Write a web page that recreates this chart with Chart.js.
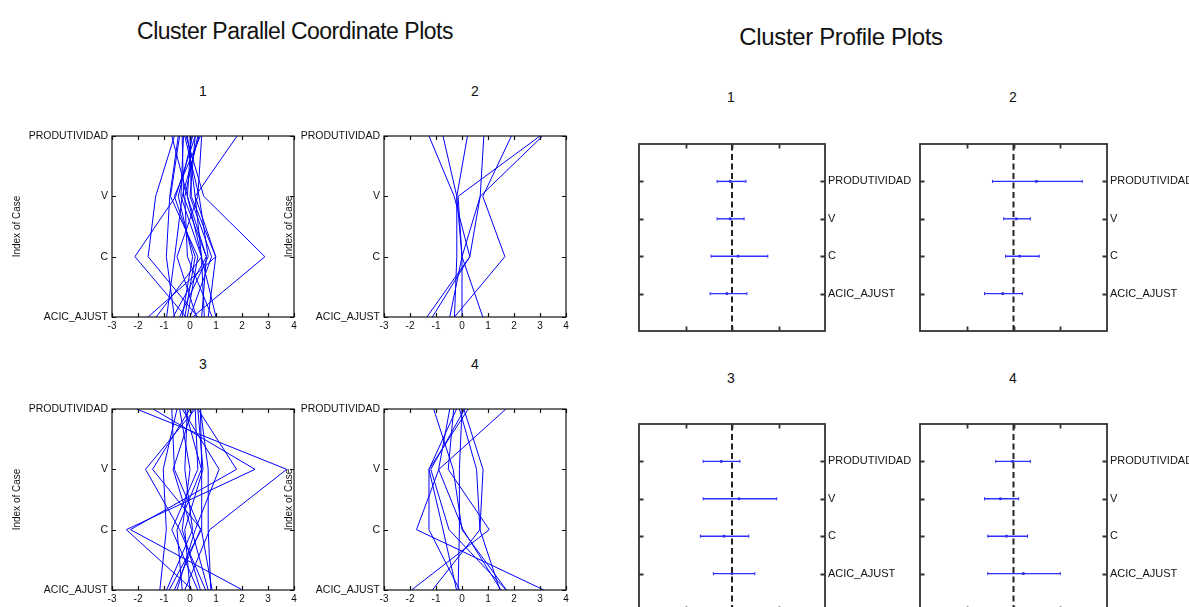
<!DOCTYPE html>
<html>
<head>
<meta charset="utf-8">
<script src="https://cdn.jsdelivr.net/npm/chart.js@4/dist/chart.umd.min.js"></script>
<style>
  html, body { margin: 0; padding: 0; background: #fff; }
  body { position: relative; width: 1189px; height: 607px; overflow: hidden;
         font-family: "Liberation Sans", Arial, sans-serif; color: #111; }
  canvas { position: absolute; }
  .lbl { position: absolute; white-space: nowrap; line-height: 1; transform: translate(-50%, -50%); }
  .main1 { font-size: 23px; letter-spacing: -0.5px; }
  .main2 { font-size: 24px; letter-spacing: -0.35px; }
  .num { font-size: 14px; }
</style>
</head>
<body>
<div class="lbl main1" style="left:295px; top:31px;">Cluster Parallel Coordinate Plots</div>
<div class="lbl main2" style="left:841px; top:37px;">Cluster Profile Plots</div>

<div class="lbl num" style="left:203px; top:91px;">1</div>
<div class="lbl num" style="left:475px; top:91px;">2</div>
<div class="lbl num" style="left:203px; top:364px;">3</div>
<div class="lbl num" style="left:475px; top:364px;">4</div>
<div class="lbl num" style="left:731px; top:97px;">1</div>
<div class="lbl num" style="left:1013px; top:97px;">2</div>
<div class="lbl num" style="left:731px; top:378px;">3</div>
<div class="lbl num" style="left:1013px; top:378px;">4</div>

<script>
// Variables, bottom to top
const variables = ['ACIC_AJUST', 'C', 'V', 'PRODUTIVIDAD'];
const parallelTicks = [-3, -2, -1, 0, 1, 2, 3, 4];
const profileTicks = [-2, 0, 2];

// Standardized cases per cluster: [ACIC_AJUST, C, V, PRODUTIVIDAD]
const cluster1Cases = [
  [0.1, 2.88, 0.53, -0.15],
  [-0.15, -2.12, -0.55, 0.2],
  [0.3, -1.61, -1.32, -0.6],
  [-0.6, -0.91, -0.78, -0.45],
  [-0.9, -0.59, -0.3, 0.35],
  [1.0, 0.44, -0.35, -0.25],
  [0.7, 0.99, 0.05, 0.0],
  [-1.61, 0.99, 0.2, 1.81],
  [0.45, 0.63, -0.1, -0.7],
  [-0.3, 0.1, -0.45, 0.1],
  [0.25, -0.5, 0.3, 0.45],
  [-0.65, 0.63, -0.25, -0.3],
  [0.0, 0.83, 0.0, 0.2],
  [-0.1, 0.3, -0.75, -0.4],
  [0.55, 0.44, 0.2, -0.1],
  [-1.3, 0.45, -0.1, 0.05],
  [0.85, -0.1, -0.2, 0.3],
  [-0.4, 0.7, 0.35, -0.2],
  [-0.2, 0.2, -0.6, 0.4]
];
const cluster2Cases = [
  [-1.35, 0.3, -0.3, -1.27],
  [0.8, 0.0, -0.2, -0.73],
  [-0.29, -0.2, -0.2, 0.21],
  [-1.14, 0.3, 0.7, 0.84],
  [-0.29, 1.65, 0.8, 1.9],
  [0.02, 0.0, -0.15, 3.0],
  [-0.47, 0.0, 0.7, 3.1]
];
const cluster3Cases = [
  [-0.2, 0.76, 3.72, -2.06],
  [0.1, -2.45, 2.5, -1.42],
  [2.02, -2.29, 1.79, 0.3],
  [-0.5, 0.2, 1.12, -0.3],
  [0.6, -0.4, -1.71, 0.2],
  [-0.8, 0.44, -1.44, 0.0],
  [-1.16, -0.91, -1.03, -0.5],
  [0.7, 0.06, -0.65, 0.1],
  [-0.3, -0.5, 0.44, -0.2],
  [0.0, -0.2, 0.5, 0.3],
  [0.8, 0.7, 0.7, 0.4],
  [-0.6, 0.4, -0.6, -0.7],
  [0.3, -0.7, 0.3, 0.2],
  [-0.9, 0.1, -0.2, -0.1],
  [0.85, 0.44, 0.45, 0.4],
  [0.4, -0.3, 0.0, -0.4]
];
const cluster4Cases = [
  [3.15, -1.75, -0.89, 1.69],
  [-0.09, -1.27, -1.27, -0.21],
  [1.71, 0.0, -0.34, -1.09],
  [1.46, 0.69, 0.81, 0.07],
  [-0.21, -0.73, -1.27, 0.24],
  [-1.94, 1.05, -0.53, -0.32],
  [-1.14, 0.69, 0.56, -0.1],
  [-0.15, -0.1, -0.1, 0.0],
  [1.5, 0.04, -0.9, -0.47],
  [1.7, -0.5, -1.2, 0.1]
];

// Cluster profiles: mean with lower / upper bounds, [ACIC_AJUST, C, V, PRODUTIVIDAD]
const profile1Mean  = [-0.22, 0.26, -0.08, -0.08];
const profile1Lower = [-0.94, -0.9, -0.64, -0.64];
const profile1Upper = [0.64, 1.54, 0.52, 0.6];
const profile2Mean  = [-0.46, 0.26, 0.12, 0.98];
const profile2Lower = [-1.24, -0.34, -0.42, -0.9];
const profile2Upper = [0.38, 1.1, 0.72, 2.94];
const profile3Mean  = [0.0, -0.34, 0.3, -0.46];
const profile3Lower = [-0.8, -1.36, -1.24, -1.24];
const profile3Upper = [0.98, 0.72, 1.92, 0.34];
const profile4Mean  = [0.42, -0.3, -0.56, -0.04];
const profile4Lower = [-1.1, -1.1, -1.24, -0.76];
const profile4Upper = [2.0, 0.6, 0.22, 0.72];

const FONT = '"Liberation Sans", Arial, sans-serif';
Chart.defaults.font.family = FONT;
Chart.defaults.color = '#111';

// Box frame with inward tick marks on all four sides
const framePlugin = {
  id: 'frame',
  afterDatasetsDraw(chart, args, o) {
    const { ctx, chartArea: a, scales } = chart;
    ctx.save();
    ctx.strokeStyle = o.color;
    ctx.lineWidth = o.width;
    ctx.beginPath();
    for (const v of o.xTicks) {
      const px = Math.round(scales.x.getPixelForValue(v)) + 0.5;
      ctx.moveTo(px, a.bottom); ctx.lineTo(px, a.bottom - o.len);
      ctx.moveTo(px, a.top); ctx.lineTo(px, a.top + o.len);
    }
    for (const v of o.yTicks) {
      const py = Math.round(scales.y.getPixelForValue(v)) + 0.5;
      ctx.moveTo(a.left, py); ctx.lineTo(a.left + o.len, py);
      ctx.moveTo(a.right, py); ctx.lineTo(a.right - o.len, py);
    }
    ctx.stroke();
    ctx.strokeRect(a.left, a.top, a.right - a.left, a.bottom - a.top);
    ctx.restore();
  }
};
Chart.register(framePlugin);

function makeCanvas(x, y, w, h) {
  const c = document.createElement('canvas');
  c.width = w; c.height = h;
  c.style.left = x + 'px'; c.style.top = y + 'px';
  c.style.width = w + 'px'; c.style.height = h + 'px';
  document.body.appendChild(c);
  return c;
}

function parallelPanel(box, cases) {
  const cx = box.l - 105, cy = box.t - 16;
  const cw = box.r + 10 - cx, ch = box.b + 20 - cy;
  const canvas = makeCanvas(cx, cy, cw, ch);
  new Chart(canvas, {
    type: 'scatter',
    data: {
      datasets: cases.map(row => ({
        data: row.map((v, i) => ({ x: v, y: i })),
        showLine: true,
        borderColor: '#0000ff',
        borderWidth: 1,
        pointRadius: 0,
        pointHoverRadius: 0
      }))
    },
    options: {
      responsive: false,
      animation: false,
      events: [],
      layout: { padding: { top: box.t - cy, right: cx + cw - box.r, left: 0, bottom: 0 } },
      plugins: {
        legend: { display: false },
        tooltip: { enabled: false },
        frame: { xTicks: parallelTicks, yTicks: [0, 1, 2, 3], len: 4, color: '#111', width: 1.2 }
      },
      scales: {
        x: {
          type: 'linear', min: -3, max: 4, position: 'bottom',
          afterBuildTicks: s => { s.ticks = parallelTicks.map(v => ({ value: v })); },
          ticks: { autoSkip: false, maxRotation: 0, padding: 3, font: { size: 10 }, callback: v => String(v) },
          grid: { display: false, drawTicks: false },
          border: { display: false },
          afterFit: s => { s.height = cy + ch - box.b; }
        },
        y: {
          type: 'linear', min: 0, max: 3, position: 'left',
          afterBuildTicks: s => { s.ticks = variables.map((_, i) => ({ value: i })); },
          ticks: { autoSkip: false, padding: 4, font: { size: 10.5 }, callback: v => variables[v] },
          title: { display: true, text: 'Index of Case', font: { size: 10 }, padding: { top: 4, bottom: 0 } },
          grid: { display: false, drawTicks: false },
          border: { display: false },
          afterFit: s => { s.width = box.l - cx; }
        }
      }
    }
  });
}

function profilePanel(box, mean, lower, upper) {
  const cx = box.l - 4, cy = box.t - 14;
  const cw = Math.min(1189, box.r + 95) - cx, ch = box.b + 16 - cy;
  const canvas = makeCanvas(cx, cy, cw, ch);
  const datasets = [{
    data: [{ x: 0, y: 0 }, { x: 0, y: 5 }],
    showLine: true,
    borderColor: '#222',
    borderWidth: 2,
    borderDash: [6, 3.5],
    pointRadius: 0
  }];
  mean.forEach((m, i) => {
    datasets.push({
      data: [{ x: lower[i], y: i + 1 }, { x: upper[i], y: i + 1 }],
      showLine: true,
      borderColor: '#2f2fff',
      borderWidth: 1.4,
      pointStyle: 'line',
      rotation: 90,
      pointRadius: 1.6,
      pointBorderWidth: 1,
      pointBorderColor: '#2f2fff'
    });
  });
  datasets.push({
    data: mean.map((m, i) => ({ x: m, y: i + 1 })),
    showLine: false,
    pointStyle: 'rect',
    pointRadius: 1.4,
    pointBackgroundColor: '#0000cc',
    pointBorderColor: '#0000cc',
    pointBorderWidth: 0.5
  });
  new Chart(canvas, {
    type: 'scatter',
    data: { datasets },
    options: {
      responsive: false,
      animation: false,
      events: [],
      layout: { padding: { top: box.t - cy, left: box.l - cx, right: 0, bottom: 0 } },
      plugins: {
        legend: { display: false },
        tooltip: { enabled: false },
        frame: { xTicks: profileTicks, yTicks: [1, 2, 3, 4], len: 4.5, color: '#333', width: 1.8 }
      },
      scales: {
        x: {
          type: 'linear', min: -4, max: 4, position: 'bottom',
          ticks: { display: false },
          grid: { display: false, drawTicks: false },
          border: { display: false },
          afterFit: s => { s.height = cy + ch - box.b; }
        },
        y: {
          type: 'linear', min: 0, max: 5, position: 'right',
          afterBuildTicks: s => { s.ticks = variables.map((_, i) => ({ value: i + 1 })); },
          ticks: { autoSkip: false, padding: 3, font: { size: 11 }, callback: v => variables[v - 1] },
          grid: { display: false, drawTicks: false },
          border: { display: false },
          afterFit: s => { s.width = cx + cw - box.r; }
        }
      }
    }
  });
}

parallelPanel({ l: 112, t: 136, r: 294, b: 317 }, cluster1Cases);
parallelPanel({ l: 384, t: 136, r: 566, b: 317 }, cluster2Cases);
parallelPanel({ l: 112, t: 409, r: 294, b: 590 }, cluster3Cases);
parallelPanel({ l: 384, t: 409, r: 566, b: 590 }, cluster4Cases);

profilePanel({ l: 638, t: 144, r: 825, b: 331 }, profile1Mean, profile1Lower, profile1Upper);
profilePanel({ l: 919, t: 144, r: 1107, b: 331 }, profile2Mean, profile2Lower, profile2Upper);
profilePanel({ l: 638, t: 424, r: 825, b: 611 }, profile3Mean, profile3Lower, profile3Upper);
profilePanel({ l: 919, t: 424, r: 1107, b: 611 }, profile4Mean, profile4Lower, profile4Upper);
</script>
</body>
</html>
